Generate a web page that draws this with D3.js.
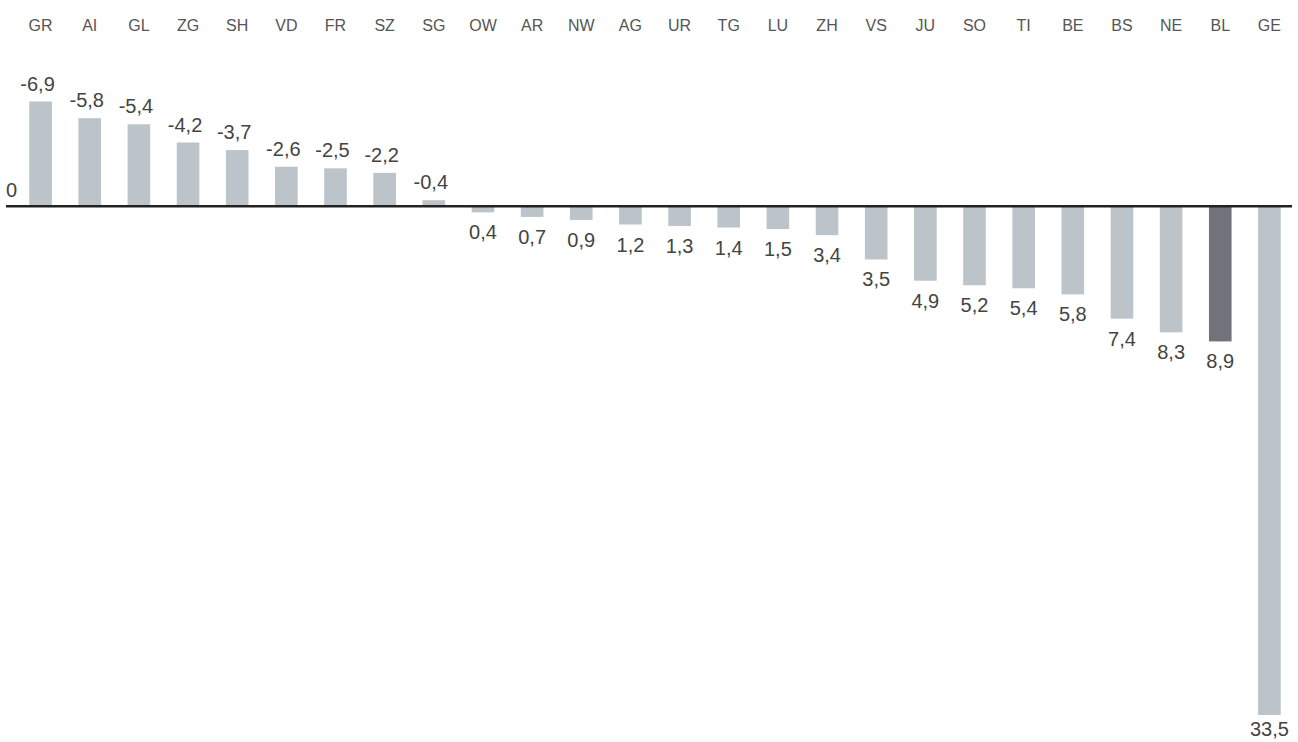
<!DOCTYPE html>
<html>
<head>
<meta charset="utf-8">
<script src="https://cdn.jsdelivr.net/npm/d3@7"></script>
<style>
  body { margin: 0; background: #fff; }
  svg text { font-family: "Liberation Sans", Arial, sans-serif; font-weight: 400; }
</style>
</head>
<body>
<div class="chart-wrapper"></div>
<script>

// cantons, left to right
const cantons = ['GR','AI','GL','ZG','SH','VD','FR','SZ','SG','OW','AR','NW','AG','UR','TG','LU','ZH','VS','JU','SO','TI','BE','BS','NE','BL','GE']

// bar lengths as drawn
const values = [-6.9,-5.8,-5.4,-4.2,-3.7,-2.6,-2.5,-2.2,-0.4,0.4,0.7,0.9,1.2,1.3,1.4,1.5,1.9,3.5,4.9,5.2,5.4,5.8,7.4,8.3,8.9,33.5]

// printed value labels
const labels = ['-6,9','-5,8','-5,4','-4,2','-3,7','-2,6','-2,5','-2,2','-0,4','0,4','0,7','0,9','1,2','1,3','1,4','1,5','3,4','3,5','4,9','5,2','5,4','5,8','7,4','8,3','8,9','33,5']

const highlight = 'BL'

const width = 1298
const height = 742

const data = cantons.map((c, i) => ({ canton: c, value: values[i], label: labels[i] }))

let svg = d3.select('.chart-wrapper').append('svg')
.attr('width', width)
.attr('height', height)

let x = d3.scaleBand()
.domain(cantons)
.range([16, 1294])
.paddingInner(0.54)
.paddingOuter(0.27)

let y = d3.scaleLinear()
.domain([-6.9, 33.5])
.range([101.5, 715])

// canton names along the top
svg.append('g')
.attr('class', 'canton-labels')
.selectAll('text')
.data(data)
.enter()
.append('text')
.attr('x', d => x(d.canton) + x.bandwidth() / 2)
.attr('y', 30.5)
.attr('text-anchor', 'middle')
.style('font-size', '16px')
.style('fill', '#555')
.text(d => d.canton)

// bars
svg.append('g')
.attr('class', 'bars')
.selectAll('rect')
.data(data)
.enter()
.append('rect')
.attr('x', d => x(d.canton))
.attr('width', x.bandwidth())
.attr('y', d => Math.min(y(0), y(d.value)))
.attr('height', d => Math.abs(y(d.value) - y(0)))
.style('fill', d => d.canton == highlight ? '#707379' : '#bcc3c9')

// zero line
svg.append('line')
.attr('x1', 6)
.attr('x2', 1292)
.attr('y1', y(0))
.attr('y2', y(0))
.style('stroke', '#222')
.style('stroke-width', 2.5)

svg.append('text')
.attr('x', 6)
.attr('y', y(0) - 9)
.style('font-size', '20px')
.style('fill', '#444')
.text('0')

// value labels
svg.append('g')
.attr('class', 'value-labels')
.selectAll('text')
.data(data)
.enter()
.append('text')
.attr('x', d => x(d.canton) + x.bandwidth() / 2 + (d.value < 0 ? -3 : 0))
.attr('y', d => d.value < 0 ? y(d.value) - 11 : Math.min(y(d.value) + 27, 736))
.attr('text-anchor', 'middle')
.style('font-size', '20px')
.style('fill', '#444')
.text(d => d.label)

</script>
</body>
</html>
